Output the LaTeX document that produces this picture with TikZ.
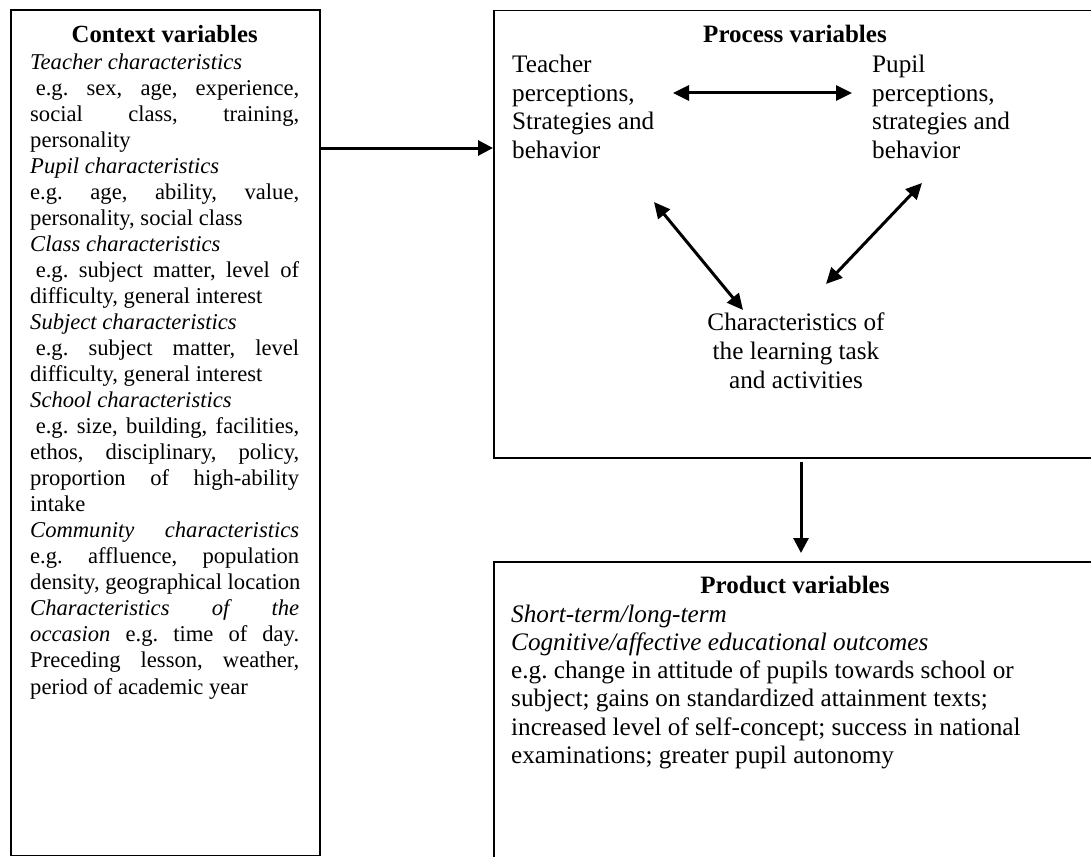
\documentclass[tikz,border=0pt]{standalone}
\usepackage{fontspec}
\setmainfont{Liberation Serif}
\usetikzlibrary{arrows.meta}
\frenchspacing
\newlength\ctxw
\setlength\ctxw{269pt}
\newcommand\normsp{\spaceskip=.25em\relax\xspaceskip=.25em\relax}
\newcommand\jl[1]{\leavevmode\hbox to\ctxw{\spaceskip=.25em plus 1fil\relax #1}}
\newcommand\ji[1]{\leavevmode\hspace*{5.6pt}\hbox to\dimexpr\ctxw-5.6pt\relax{\spaceskip=.25em plus 1fil\relax #1}}
\begin{document}
\begin{tikzpicture}[x=1pt,y=-1pt,
  box/.style={draw, line width=1.5pt, inner sep=0pt, anchor=north west},
  txt/.style={inner sep=0pt, align=left},
  arr/.style={line width=3pt, -{Triangle[length=15pt,width=15pt]}},
  darr/.style={line width=3pt, {Triangle[length=16pt,width=15pt]}-{Triangle[length=16pt,width=15pt]}}]
\useasboundingbox[fill=white] (0,0) rectangle (1091,856);

% boxes
\node[box, minimum width=309pt, minimum height=845pt] (ctx) at (10,9.5) {};
\node[box, minimum width=700pt, minimum height=447pt] (proc) at (493,10) {};
\node[box, minimum width=700pt, minimum height=400pt] (prod) at (493,561) {};

% context text
\node[txt, anchor=base west, text width=269pt] (ctxtext) at (30,43)
{\fontsize{22.6}{26.04}\selectfont\normsp
\leavevmode\hbox to\ctxw{\hss\fontsize{24.7}{26.04}\selectfont\normsp\bfseries Context variables\hss}\\
\textit{Teacher characteristics}\\
\ji{e.g. sex, age, experience,}\\
\jl{social class, training,}\\
personality\\
\textit{Pupil characteristics}\\
\jl{e.g. age, ability, value,}\\
personality, social class\\
\textit{Class characteristics}\\
\ji{e.g. subject matter, level of}\\
difficulty, general interest\\
\textit{Subject characteristics}\\
\ji{e.g. subject matter, level}\\
difficulty, general interest\\
\textit{School characteristics}\\
\ji{e.g. size, building, facilities,}\\
\jl{ethos, disciplinary, policy,}\\
\jl{proportion of high-ability}\\
intake\\
\jl{\itshape Community characteristics}\\
\jl{e.g. affluence, population}\\
\jl{density, geographical location}\\
\jl{\itshape Characteristics of the}\\
\jl{\textit{occasion} e.g. time of day.}\\
\jl{Preceding lesson, weather,}\\
period of academic year\par};

% process
\node[txt, anchor=base] (ptitle) at (795,43) {\fontsize{25}{28.5}\selectfont\normsp\bfseries Process variables};
\node[txt, anchor=base west, text width=170pt] (tp) at (512,73)
{\fontsize{25.2}{28.5}\selectfont\normsp Teacher\\perceptions,\\Strategies and\\behavior\par};
\node[txt, anchor=base west, text width=170pt] (pp) at (872,73)
{\fontsize{25.2}{28.5}\selectfont\normsp Pupil\\perceptions,\\strategies and\\behavior\par};
\node[inner sep=0pt, align=center, anchor=base, text width=260pt] (task) at (796,330)
{\fontsize{25.2}{29}\selectfont\normsp Characteristics of\\the learning task\\and activities\par};

% product
\node[txt, anchor=base] (prtitle) at (795,593) {\fontsize{25}{28.5}\selectfont\normsp\bfseries Product variables};
\node[txt, anchor=base west, text width=575pt] (prtext) at (511,622)
{\fontsize{25.2}{28.3}\selectfont\normsp
\textit{Short-term/long-term}\\
\textit{Cognitive/affective educational outcomes}\\
e.g. change in attitude of pupils towards school or\\
subject; gains on standardized attainment texts;\\
increased level of self-concept; success in national\\
examinations; greater pupil autonomy\par};

% connector coordinates
\coordinate (tpR) at (673,93);
\coordinate (ppL) at (852,93);
\coordinate (tpB) at (654,202);
\coordinate (taskL) at (743,310);
\coordinate (ppB) at (922,183);
\coordinate (taskR) at (826,284);
\coordinate (d1) at (801,462);
\coordinate (d2) at (801,553);

% arrows
\draw[arr] (ctx.east |- 0,148) -- (proc.west |- 0,148);
\draw[arr] (d1) -- (d2);
\draw[darr] (tpR) -- (ppL);
\draw[darr] (tpB) -- (taskL);
\draw[darr] (ppB) -- (taskR);
\end{tikzpicture}
\end{document}
